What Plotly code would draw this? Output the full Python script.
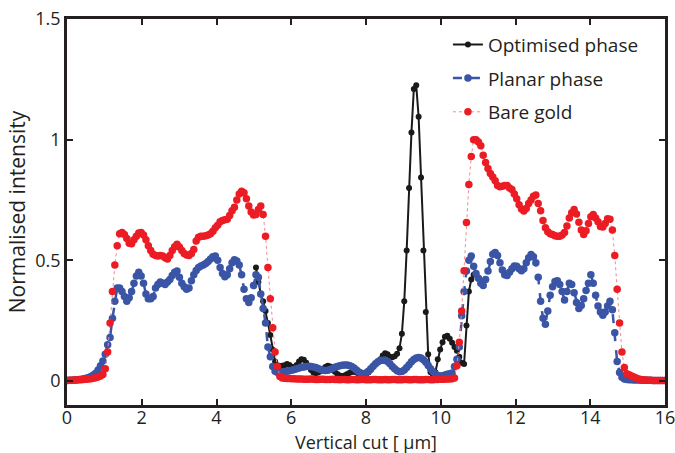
import plotly.graph_objects as go

# sampling grid of the vertical cut (µm)
STEP = 0.064
N_POINTS = 251
BLACK_START = 79  # index where the optimised-phase trace becomes visible

x_cut = [round(i * STEP, 3) for i in range(N_POINTS)]

bare_gold = [
    0.002, 0.003, 0.003, 0.004, 0.004, 0.005, 0.005, 0.006, 0.007, 0.008,
    0.009, 0.011, 0.013, 0.016, 0.02, 0.026, 0.05, 0.12, 0.24, 0.37,
    0.48, 0.56, 0.61, 0.615, 0.607, 0.59, 0.57, 0.568, 0.585, 0.6,
    0.613, 0.615, 0.605, 0.585, 0.56, 0.54, 0.525, 0.52, 0.518, 0.52,
    0.518, 0.51, 0.505, 0.52, 0.54, 0.556, 0.566, 0.555, 0.54, 0.528,
    0.522, 0.52, 0.528, 0.545, 0.58, 0.595, 0.6, 0.6, 0.602, 0.605,
    0.61, 0.62, 0.635, 0.645, 0.66, 0.665, 0.668, 0.67, 0.685, 0.705,
    0.72, 0.75, 0.775, 0.786, 0.78, 0.755, 0.725, 0.70, 0.688, 0.69,
    0.71, 0.725, 0.69, 0.6, 0.47, 0.34, 0.22, 0.12, 0.06, 0.018,
    0.012, 0.011, 0.01, 0.01, 0.009, 0.009, 0.008, 0.008, 0.008, 0.007,
    0.007, 0.007, 0.008, 0.007, 0.006, 0.006, 0.007, 0.007, 0.006, 0.006,
    0.006, 0.007, 0.006, 0.006, 0.005, 0.006, 0.006, 0.005, 0.005, 0.006,
    0.006, 0.005, 0.005, 0.006, 0.006, 0.005, 0.005, 0.005, 0.006, 0.006,
    0.005, 0.005, 0.005, 0.006, 0.005, 0.005, 0.006, 0.006, 0.005, 0.005,
    0.005, 0.006, 0.006, 0.005, 0.005, 0.006, 0.006, 0.005, 0.005, 0.005,
    0.006, 0.006, 0.005, 0.005, 0.006, 0.006, 0.007, 0.007, 0.007, 0.008,
    0.008, 0.009, 0.012,
    0.063, 0.16, 0.29, 0.456, 0.656, 0.814, 0.93, 1.0, 1.0, 0.99,
    0.975, 0.935, 0.905, 0.88, 0.86, 0.845, 0.83, 0.81, 0.805, 0.807,
    0.81, 0.81, 0.8, 0.793, 0.775, 0.755, 0.73, 0.712, 0.704, 0.715,
    0.735, 0.75, 0.765, 0.77, 0.735, 0.705, 0.665, 0.635, 0.618, 0.61,
    0.607, 0.602, 0.6, 0.6, 0.605, 0.615, 0.642, 0.675, 0.697, 0.71,
    0.692, 0.658, 0.625, 0.607, 0.622, 0.652, 0.68, 0.69, 0.675, 0.66,
    0.64, 0.638, 0.652, 0.672, 0.67, 0.625, 0.52, 0.38, 0.24, 0.12,
    0.055, 0.03, 0.025, 0.02, 0.016, 0.012, 0.008, 0.006, 0.005, 0.004,
    0.003, 0.003, 0.002, 0.002, 0.002, 0.002, 0.002, 0.002,
]

planar_phase = [
    0.002, 0.003, 0.003, 0.004, 0.005, 0.006, 0.007, 0.009, 0.011, 0.014,
    0.018, 0.024, 0.032, 0.045, 0.063, 0.082, 0.11, 0.15, 0.18, 0.26,
    0.33, 0.385, 0.385, 0.37, 0.35, 0.33, 0.345, 0.37, 0.405, 0.435,
    0.45, 0.435, 0.405, 0.36, 0.34, 0.34, 0.35, 0.385, 0.40, 0.41,
    0.405, 0.40, 0.41, 0.42, 0.437, 0.45, 0.455, 0.43, 0.405, 0.39,
    0.38, 0.385, 0.415, 0.44, 0.458, 0.47, 0.476, 0.48, 0.487, 0.495,
    0.505, 0.515, 0.518, 0.5, 0.47, 0.445, 0.432, 0.44, 0.465, 0.49,
    0.502, 0.497, 0.48, 0.44, 0.38, 0.34, 0.325, 0.345, 0.395, 0.44,
    0.43, 0.36, 0.3, 0.24, 0.14, 0.1, 0.06, 0.04, 0.035, 0.034,
    0.036, 0.038, 0.04, 0.042, 0.044, 0.047, 0.05, 0.053, 0.056, 0.058,
    0.06, 0.061, 0.06, 0.058, 0.055, 0.051, 0.047, 0.044, 0.043, 0.044,
    0.047, 0.051, 0.056, 0.06, 0.063, 0.065, 0.066, 0.066, 0.064, 0.06,
    0.053, 0.045, 0.037, 0.032, 0.03, 0.033, 0.04, 0.05, 0.061, 0.071,
    0.079, 0.084, 0.086, 0.085, 0.08, 0.071, 0.06, 0.05, 0.042, 0.038,
    0.039, 0.045, 0.055, 0.067, 0.079, 0.089, 0.095, 0.097, 0.095, 0.088,
    0.077, 0.064, 0.05, 0.038, 0.028, 0.022, 0.02, 0.021, 0.024, 0.027,
    0.03, 0.033, 0.06, 0.09, 0.14, 0.27, 0.37, 0.455, 0.5, 0.518,
    0.475, 0.445, 0.425, 0.405, 0.395, 0.42, 0.455, 0.495, 0.525, 0.532,
    0.52, 0.49, 0.46, 0.44, 0.437, 0.45, 0.465, 0.476, 0.475, 0.465,
    0.456, 0.465, 0.49, 0.51, 0.524, 0.515, 0.49, 0.43, 0.33, 0.26,
    0.235, 0.29, 0.355, 0.39, 0.412, 0.415, 0.4, 0.37, 0.335, 0.37,
    0.405, 0.4, 0.365, 0.325, 0.3, 0.312, 0.34, 0.375, 0.405, 0.44,
    0.405, 0.355, 0.31, 0.285, 0.272, 0.285, 0.31, 0.33, 0.295, 0.2,
    0.08, 0.035, 0.015, 0.008, 0.006, 0.005, 0.005, 0.004, 0.004, 0.004,
    0.003, 0.003, 0.003, 0.003, 0.003, 0.002, 0.002, 0.002, 0.002, 0.002, 0.002,
]

optimised_phase = [
    0.47, 0.41, 0.36, 0.33, 0.29, 0.24, 0.19, 0.13, 0.08, 0.065,
    0.062, 0.063, 0.065, 0.07, 0.066, 0.058, 0.058, 0.066, 0.08, 0.09,
    0.088, 0.075, 0.06, 0.045, 0.035, 0.032, 0.035, 0.04, 0.048, 0.058,
    0.063, 0.06, 0.05, 0.038, 0.028, 0.022, 0.02, 0.022, 0.027, 0.033,
    0.037, 0.038, 0.035, 0.028, 0.022, 0.02, 0.025, 0.035, 0.045, 0.06,
    0.072, 0.08, 0.09, 0.105, 0.115, 0.11, 0.1, 0.098, 0.102, 0.112,
    0.135, 0.195, 0.33, 0.54, 0.80, 1.03, 1.21, 1.225, 1.095, 0.843,
    0.54, 0.285, 0.11, 0.036, 0.02, 0.036, 0.09, 0.13, 0.16, 0.183,
    0.187, 0.175, 0.158, 0.14, 0.125, 0.1, 0.075, 0.07, 0.23, 0.37,
    0.42, 0.44,
]
x_black = x_cut[BLACK_START:BLACK_START + len(optimised_phase)]

x_ticks = [0, 2, 4, 6, 8, 10, 12, 14, 16]
y_ticks = [0, 0.5, 1, 1.5]
y_tick_labels = ["0", "0.5", "1", "1.5"]
x_title = "Vertical cut [ μm]"
y_title = "Normalised intensity"

TEXT = "#231f20"
FONT = "Open Sans"

fig = go.Figure()
fig.add_trace(go.Scatter(
    x=x_black, y=optimised_phase, name="Optimised phase", mode="lines+markers",
    line=dict(color="#1a1a1a", width=2),
    marker=dict(color="#1a1a1a", size=6, line=dict(width=0)),
    legendgroup="a",
))
fig.add_trace(go.Scatter(
    x=x_cut, y=planar_phase, name="Planar phase", mode="lines+markers",
    line=dict(color="#3a55a5", width=2.5, dash="dash"),
    marker=dict(color="#3a55a5", size=7.5, line=dict(width=0)),
    legendgroup="b",
))
fig.add_trace(go.Scatter(
    x=x_cut, y=bare_gold, name="Bare gold", mode="lines+markers",
    line=dict(color="#f08a8d", width=1, dash="dot"),
    marker=dict(color="#ec1c24", size=7.5, line=dict(width=0)),
    legendgroup="c",
))

axis_common = dict(
    showline=True, linecolor="#231f20", linewidth=2.5, mirror="ticks",
    ticks="inside", ticklen=6, tickwidth=2, tickcolor="#231f20",
    showgrid=False, zeroline=False, automargin=False,
    ticklabeloverflow="allow",
    tickfont=dict(family=FONT, size=18, color=TEXT),
)

fig.update_xaxes(range=[0, 16], tickvals=x_ticks, ticklabelstandoff=-5, **axis_common)
fig.update_yaxes(
    range=[-0.1, 1.5], tickvals=y_ticks, ticktext=y_tick_labels,
    title=dict(text=y_title, font=dict(family=FONT, size=21, color=TEXT), standoff=4),
    **axis_common,
)

fig.add_annotation(
    text=x_title, xref="paper", yref="paper", x=0.5, y=-0.0946,
    xanchor="center", yanchor="middle", showarrow=False,
    font=dict(family=FONT, size=18, color=TEXT),
)

fig.update_layout(
    width=675, height=453,
    margin=dict(l=67, r=10, t=19, b=48),
    paper_bgcolor="white", plot_bgcolor="white",
    showlegend=True,
    legend=dict(
        x=0.637, y=0.983, xanchor="left", yanchor="top",
        bgcolor="rgba(0,0,0,0)", borderwidth=0,
        font=dict(family=FONT, size=19, color=TEXT),
        itemwidth=30, tracegroupgap=6,
    ),
)

fig.write_html("out.html")
